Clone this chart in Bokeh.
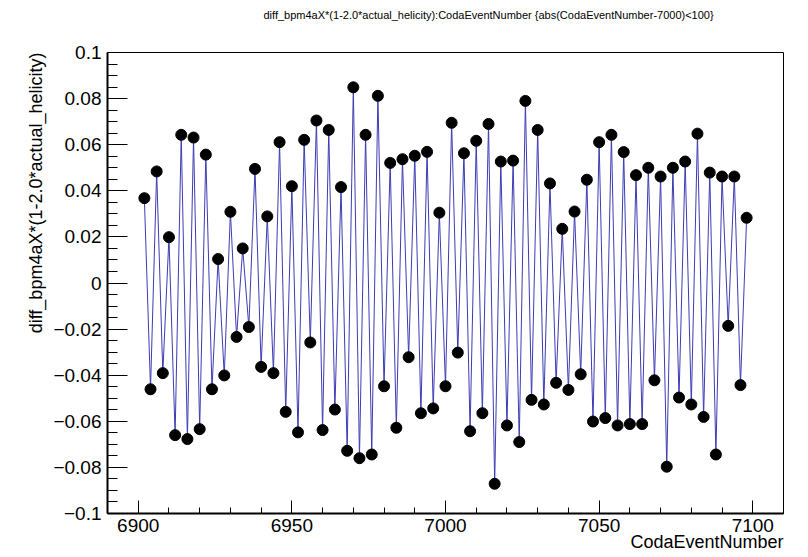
from bokeh.plotting import figure
from bokeh.models import Range1d, Title, FixedTicker, ColumnDataSource
from bokeh.embed import file_html
from bokeh.resources import INLINE

# ---- data ----
event_number = list(range(6902, 7099, 2))
diff_x = [
    0.0368, -0.0461, 0.0484, -0.0391, 0.0199, -0.0660, 0.0643, -0.0677, 0.0631, -0.0634,
    0.0557, -0.0461, 0.0104, -0.0401, 0.0309, -0.0234, 0.0150, -0.0191, 0.0495, -0.0364,
    0.0289, -0.0391, 0.0611, -0.0559, 0.0420, -0.0648, 0.0621, -0.0258, 0.0705, -0.0638,
    0.0664, -0.0549, 0.0416, -0.0728, 0.0849, -0.0760, 0.0643, -0.0744, 0.0812, -0.0448,
    0.0521, -0.0628, 0.0537, -0.0322, 0.0552, -0.0565, 0.0569, -0.0544, 0.0305, -0.0448,
    0.0695, -0.0302, 0.0563, -0.0643, 0.0617, -0.0565, 0.0690, -0.0871, 0.0527, -0.0618,
    0.0531, -0.0690, 0.0790, -0.0507, 0.0664, -0.0527, 0.0432, -0.0433, 0.0235, -0.0464,
    0.0310, -0.0396, 0.0448, -0.0601, 0.0611, -0.0586, 0.0643, -0.0618, 0.0568, -0.0612,
    0.0468, -0.0612, 0.0500, -0.0422, 0.0462, -0.0797, 0.0500, -0.0497, 0.0527, -0.0527,
    0.0648, -0.0581, 0.0479, -0.0744, 0.0462, -0.0186, 0.0462, -0.0443, 0.0283,
]
x_major_ticks = [6900, 6950, 7000, 7050, 7100]
x_tick_labels = ["6900", "6950", "7000", "7050", "7100"]
y_major_ticks = [-0.1, -0.08, -0.06, -0.04, -0.02, 0.0, 0.02, 0.04, 0.06, 0.08, 0.1]
y_tick_labels = ["\u22120.1", "\u22120.08", "\u22120.06", "\u22120.04", "\u22120.02", "0",
                 "0.02", "0.04", "0.06", "0.08", "0.1"]
title_text = "diff_bpm4aX*(1-2.0*actual_helicity):CodaEventNumber {abs(CodaEventNumber-7000)<100}"
x_title = "CodaEventNumber"
y_title = "diff_bpm4aX*(1-2.0*actual_helicity)"

FONT = "Liberation Sans"

p = figure(width=808, height=557, output_backend="svg", toolbar_location=None,
           x_range=Range1d(6890, 7110), y_range=Range1d(-0.1, 0.1),
           min_border_left=107, min_border_right=25, min_border_top=52, min_border_bottom=44)
p.title.visible = False
p.grid.visible = False
p.background_fill_color = "white"
p.border_fill_color = "white"
p.outline_line_color = "black"
p.outline_line_width = 1

src = ColumnDataSource(dict(x=event_number, y=diff_x))
p.line("x", "y", source=src, line_color="#3c3cb4", line_width=1)
p.scatter("x", "y", source=src, size=11, fill_color="black", line_color="black")

xa = p.xaxis[0]
xa.ticker = FixedTicker(ticks=x_major_ticks,
                        minor_ticks=[6890 + 10 * i for i in range(23)])
xa.major_label_overrides = {t: l for t, l in zip(x_major_ticks, x_tick_labels)}
xa.major_tick_in = 13
xa.major_tick_out = 0
xa.minor_tick_in = 6
xa.minor_tick_out = 0
xa.axis_line_width = 2
xa.major_label_text_font = FONT
xa.major_label_text_font_size = "19px"
xa.major_label_text_color = "black"
xa.major_label_standoff = 5

ya = p.yaxis[0]
ya.ticker = FixedTicker(ticks=y_major_ticks,
                        minor_ticks=[round(-0.1 + 0.005 * i, 4) for i in range(41)])
ya.major_label_overrides = {t: l for t, l in zip(y_major_ticks, y_tick_labels)}
ya.major_tick_in = 20
ya.major_tick_out = 0
ya.minor_tick_in = 10
ya.minor_tick_out = 0
ya.axis_line_width = 2
ya.major_label_text_font = FONT
ya.major_label_text_font_size = "19px"
ya.major_label_text_color = "black"
ya.major_label_standoff = 6

# spacer above the frame, then the real title further out
p.add_layout(Title(text=" ", standoff=18, text_font=FONT, text_font_size="11px",
                   text_font_style="normal"), "above")
p.add_layout(Title(text=title_text, align="left", offset=156, standoff=0,
                   text_font=FONT, text_font_size="11px", text_font_style="normal",
                   text_color="black"), "above")
p.add_layout(Title(text=x_title, align="right", standoff=-10,
                   text_font=FONT, text_font_size="18px", text_font_style="normal",
                   text_color="black"), "below")
p.add_layout(Title(text=y_title, align="right", standoff=10,
                   text_font=FONT, text_font_size="18px", text_font_style="normal",
                   text_color="black"), "left")

open("out.html", "w").write(file_html(p, INLINE))
